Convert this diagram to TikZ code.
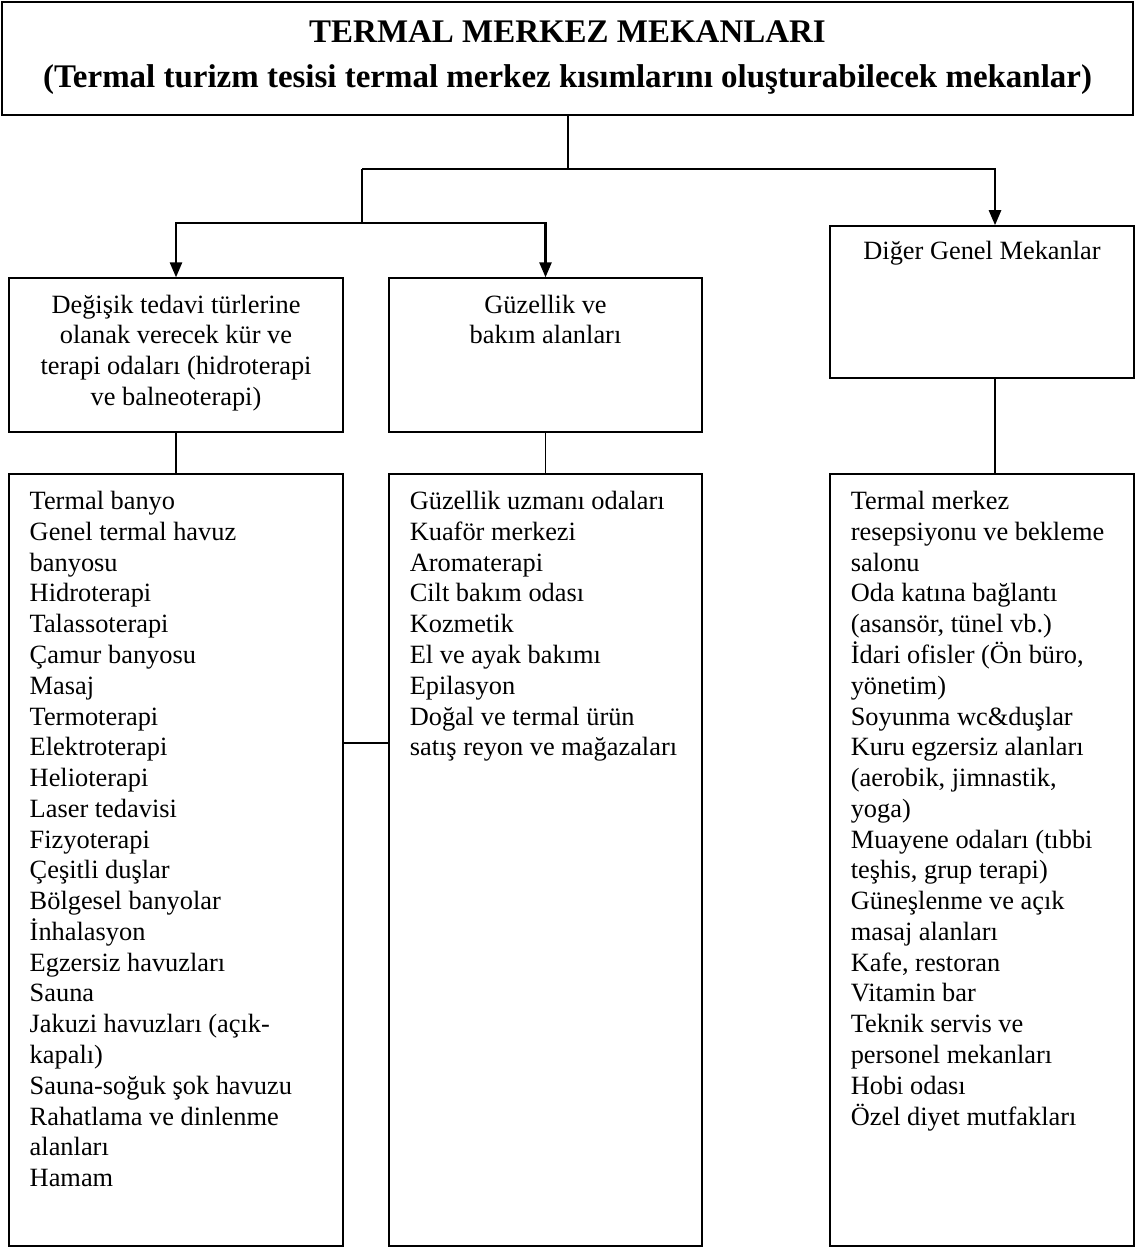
\documentclass[tikz,border=0pt]{standalone}
\usepackage{fontspec}
\setmainfont{Liberation Serif}
\usetikzlibrary{arrows.meta,positioning,calc}

\begin{document}
\begin{tikzpicture}[
    x=0.455pt, y=-0.455pt,
    box/.style={draw,line width=0.7pt,inner sep=0pt},
    metin/.style={inner sep=0pt,align=center,font=\fontsize{12}{14}\selectfont},
    liste/.style={inner sep=0pt,align=left,font=\fontsize{12}{14}\selectfont},
    baslik/.style={inner sep=0pt,align=center,font=\fontsize{15}{20.5}\selectfont\bfseries},
    line/.style={line width=0.6pt},
    arr/.style={line width=1pt,-{Triangle[length=6.8pt,width=5.5pt]}}
]
\useasboundingbox (0,0) rectangle (1136,1249);

% kutular
\node[box,minimum width=514.6pt,minimum height=51.4pt] (title) at (567.5,58.5) {};
\node[box,minimum width=152pt,minimum height=70pt] (tedavi) at (176,355) {};
\node[box,minimum width=142.4pt,minimum height=70pt] (guzel) at (545.5,355) {};
\node[box,minimum width=138.3pt,minimum height=69.2pt] (diger) at (982,302) {};
\node[box,minimum width=152pt,minimum height=351.3pt] (liste1) at (176,860) {};
\node[box,minimum width=142.4pt,minimum height=351.3pt] (liste2) at (545.5,860) {};
\node[box,minimum width=138.3pt,minimum height=351.3pt] (liste3) at (982,860) {};

% yazilar
\node[baslik,below=4.3pt of title.north] (title-t) {\strut TERMAL MERKEZ MEKANLARI\\
  (Termal turizm tesisi termal merkez kısımlarını oluşturabilecek mekanlar)};
\node[metin,below=6.3pt of tedavi.north] (tedavi-t) {\strut Değişik tedavi türlerine\\
  olanak verecek kür ve\\ terapi odaları (hidroterapi\\ ve balneoterapi)};
\node[metin,below=6.3pt of guzel.north] (guzel-t) {\strut Güzellik ve\\ bakım alanları};
\node[metin,below=5.4pt of diger.north] (diger-t) {\strut Diğer Genel Mekanlar};

\node[liste,below right=6.6pt and 9.6pt of liste1.north west] (liste1-t) {\strut Termal banyo\\
  Genel termal havuz\\ banyosu\\ Hidroterapi\\ Talassoterapi\\ Çamur banyosu\\
  Masaj\\ Termoterapi\\ Elektroterapi\\ Helioterapi\\ Laser tedavisi\\
  Fizyoterapi\\ Çeşitli duşlar\\ Bölgesel banyolar\\ İnhalasyon\\
  Egzersiz havuzları\\ Sauna\\ Jakuzi havuzları (açık-\\ kapalı)\\
  Sauna-soğuk şok havuzu\\ Rahatlama ve dinlenme\\ alanları\\ Hamam};
\node[liste,below right=6.6pt and 9.6pt of liste2.north west] (liste2-t) {\strut Güzellik uzmanı odaları\\
  Kuaför merkezi\\ Aromaterapi\\ Cilt bakım odası\\ Kozmetik\\
  El ve ayak bakımı\\ Epilasyon\\ Doğal ve termal ürün\\ satış reyon ve mağazaları};
\node[liste,below right=6.6pt and 9.6pt of liste3.north west] (liste3-t) {\strut Termal merkez\\
  resepsiyonu ve bekleme\\ salonu\\ Oda katına bağlantı\\ (asansör, tünel vb.)\\
  İdari ofisler (Ön büro,\\ yönetim)\\ Soyunma wc\&duşlar\\ Kuru egzersiz alanları\\
  (aerobik, jimnastik,\\ yoga)\\ Muayene odaları (tıbbi\\ teşhis, grup terapi)\\
  Güneşlenme ve açık\\ masaj alanları\\ Kafe, restoran\\ Vitamin bar\\
  Teknik servis ve\\ personel mekanları\\ Hobi odası\\ Özel diyet mutfakları};

% baglantilar
\coordinate (j0) at (568,169);
\coordinate (j1) at (362,223);
\coordinate (j2) at (995,169);
\coordinate (j4) at (366,743);

\draw[line] (title.south -| j0) -- (j0);
\draw[arr] (j1 |- j0) -- (j2) -- (j2 |- diger.north);
\draw[line width=1pt] (j1 |- j0) -- (j1);
\draw[arr] (j1) -| (tedavi.north);
\draw[arr] (j1) -| (guzel.north);

\draw[line] (tedavi) -- (liste1);
\draw[line] (guzel) -- (liste2);
\draw[line] (diger.south -| j2) -- (liste3.north -| j2);
\draw[line] (liste1.east |- j4) -- (liste2.west |- j4);
\end{tikzpicture}
\end{document}
